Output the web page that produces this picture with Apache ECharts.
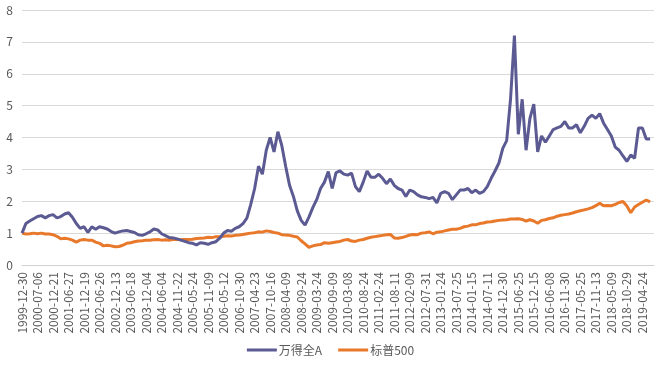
<!DOCTYPE html>
<html>
<head>
<meta charset="utf-8">
<script src="https://cdn.jsdelivr.net/npm/echarts@6/dist/echarts.min.js"></script>
<style>
html,body{margin:0;padding:0;background:#fff;}
#c{width:661px;height:366px;}
</style>
</head>
<body>
<div id="c"></div>
<script>
var dates = [
'1999-12-30','2000-02-17','2000-04-06','2000-05-22',
'2000-07-06','2000-08-16','2000-09-26','2000-11-08',
'2000-12-21','2001-02-08','2001-03-28','2001-05-14',
'2001-06-27','2001-08-10','2001-09-25','2001-11-06',
'2001-12-19','2002-02-06','2002-03-26','2002-05-10',
'2002-06-26','2002-08-12','2002-09-25','2002-10-30',
'2002-12-13','2003-02-03','2003-03-24','2003-05-06',
'2003-06-18','2003-07-31','2003-09-12','2003-10-23',
'2003-12-04','2004-01-22','2004-03-09','2004-04-21',
'2004-06-04','2004-07-20','2004-08-30','2004-10-11',
'2004-11-22','2005-01-10','2005-02-25','2005-04-12',
'2005-05-24','2005-07-06','2005-08-17','2005-09-28',
'2005-11-09','2005-12-27','2006-02-14','2006-03-29',
'2006-05-12','2006-06-26','2006-08-08','2006-09-19',
'2006-10-30','2006-12-13','2007-01-31','2007-03-13',
'2007-04-23','2007-06-07','2007-07-20','2007-08-31',
'2007-10-16','2007-11-28','2008-01-15','2008-02-26',
'2008-04-09','2008-05-20','2008-07-02','2008-08-13',
'2008-09-24','2008-11-07','2008-12-22','2009-02-09',
'2009-03-24','2009-05-06','2009-06-17','2009-07-29',
'2009-09-09','2009-10-22','2009-12-03','2010-01-21',
'2010-03-08','2010-04-20','2010-06-01','2010-07-13',
'2010-08-24','2010-10-07','2010-11-18','2011-01-05',
'2011-02-24','2011-04-07','2011-05-18','2011-06-30',
'2011-08-11','2011-09-23','2011-11-04','2011-12-20',
'2012-02-09','2012-03-22','2012-05-04','2012-06-18',
'2012-07-31','2012-09-12','2012-10-26','2012-12-10',
'2013-01-24','2013-03-11','2013-04-24','2013-06-10',
'2013-07-25','2013-09-05','2013-10-18','2013-12-02',
'2014-01-15','2014-03-03','2014-04-14','2014-05-27',
'2014-07-11','2014-08-21','2014-10-02','2014-11-14',
'2014-12-30','2015-02-13','2015-03-30','2015-05-11',
'2015-06-25','2015-08-06','2015-09-18','2015-11-02',
'2015-12-15','2016-02-01','2016-03-14','2016-04-26',
'2016-06-08','2016-07-21','2016-09-01','2016-10-17',
'2016-11-30','2017-01-17','2017-03-02','2017-04-12',
'2017-05-25','2017-07-07','2017-08-18','2017-09-29',
'2017-11-13','2017-12-26','2018-02-12','2018-03-27',
'2018-05-09','2018-06-21','2018-08-02','2018-09-14',
'2018-10-29','2018-12-12','2019-01-29','2019-03-13',
'2019-04-24','2019-06-06','2019-07-19','2019-08-30'
];

var windA = [
1.0,1.3,1.38,1.45, 1.52,1.55,1.48,1.55, 1.58,1.48,1.52,1.6,
1.64,1.5,1.3,1.15, 1.2,1.02,1.2,1.12, 1.2,1.17,1.13,1.05,
1.0,1.04,1.07,1.08, 1.05,1.02,0.95,0.93, 0.98,1.04,1.13,1.1,
0.98,0.92,0.86,0.85, 0.82,0.78,0.74,0.7, 0.68,0.63,0.7,0.68,
0.65,0.7,0.73,0.84, 1.0,1.08,1.06,1.15, 1.2,1.3,1.47,1.9,
2.4,3.1,2.85,3.6, 4.0,3.55,4.18,3.75, 3.1,2.5,2.15,1.7,
1.4,1.25,1.5,1.8, 2.05,2.4,2.6,2.93, 2.4,2.9,2.95,2.85,
2.82,2.88,2.46,2.3, 2.6,2.95,2.75,2.75, 2.85,2.72,2.55,2.7,
2.5,2.4,2.35,2.15, 2.35,2.3,2.2,2.14, 2.12,2.08,2.12,1.95,
2.25,2.3,2.25,2.05, 2.2,2.35,2.35,2.4, 2.27,2.35,2.25,2.3,
2.46,2.72,2.95,3.2, 3.66,3.9,5.2,7.2, 4.1,5.2,3.6,4.6,
5.05,3.55,4.05,3.85, 4.05,4.25,4.3,4.35, 4.5,4.3,4.3,4.4,
4.15,4.35,4.6,4.7, 4.6,4.75,4.45,4.25, 4.05,3.7,3.6,3.42,
3.25,3.45,3.35,4.3, 4.3,3.95,3.95
];

var sp500 = [
1.0,0.97,0.98,1.0, 0.98,1.0,0.97,0.97, 0.95,0.9,0.82,0.84,
0.82,0.78,0.72,0.78, 0.8,0.78,0.78,0.72, 0.68,0.6,0.62,0.6,
0.57,0.58,0.62,0.68, 0.7,0.73,0.75,0.76, 0.78,0.78,0.79,0.8,
0.78,0.79,0.78,0.8, 0.8,0.79,0.8,0.8, 0.81,0.83,0.84,0.85,
0.87,0.86,0.89,0.89, 0.9,0.92,0.91,0.93, 0.94,0.96,0.98,1.0,
1.01,1.04,1.03,1.07, 1.05,1.02,1.0,0.95, 0.94,0.93,0.9,0.88,
0.76,0.66,0.55,0.6, 0.63,0.64,0.7,0.68, 0.7,0.72,0.74,0.78,
0.8,0.75,0.74,0.78, 0.8,0.84,0.87,0.89, 0.91,0.93,0.95,0.96,
0.85,0.84,0.86,0.9, 0.94,0.96,0.95,1.0, 1.01,1.04,0.98,1.03,
1.04,1.07,1.1,1.12, 1.12,1.15,1.2,1.22, 1.26,1.26,1.3,1.32,
1.35,1.36,1.38,1.4, 1.41,1.42,1.44,1.44, 1.45,1.43,1.38,1.42,
1.38,1.31,1.4,1.42, 1.46,1.48,1.53,1.56, 1.58,1.6,1.63,1.67,
1.7,1.73,1.76,1.8, 1.86,1.94,1.86,1.87, 1.86,1.9,1.96,1.99,
1.85,1.64,1.82,1.9, 1.97,2.04,1.98
];

var seriesNames = ['万得全A', '标普500'];
var yTicks = {min: 0, max: 8, interval: 1};

var chart = echarts.init(document.getElementById('c'), null, {renderer: 'canvas'});
var font = '"Noto Sans CJK SC", "Liberation Sans", sans-serif';
chart.setOption({
  animation: false,
  backgroundColor: '#ffffff',
  grid: {left: 22, right: 7, top: 10, bottom: 101, containLabel: false},
  legend: {
    data: seriesNames,
    bottom: 5,
    left: 'center',
    icon: 'rect',
    itemWidth: 30,
    itemHeight: 3,
    itemGap: 16,
    textStyle: {color: '#595959', fontSize: 12, fontFamily: font, padding: [0, 0, 0, -3]}
  },
  xAxis: {
    type: 'category',
    data: dates,
    boundaryGap: false,
    axisLine: {show: true, lineStyle: {color: '#d0d0d0', width: 1}},
    axisTick: {show: false},
    splitLine: {show: false},
    axisLabel: {
      interval: 3,
      rotate: 90,
      margin: 7,
      color: '#595959',
      fontSize: 12,
      fontFamily: font
    }
  },
  yAxis: {
    type: 'value',
    min: yTicks.min,
    max: yTicks.max,
    interval: yTicks.interval,
    axisLine: {show: false},
    axisTick: {show: false},
    splitLine: {lineStyle: {color: '#d9d9d9', width: 1}},
    axisLabel: {color: '#595959', fontSize: 12, margin: 9, fontFamily: font}
  },
  series: [
    {
      name: seriesNames[0],
      type: 'line',
      data: windA,
      symbol: 'none',
      lineStyle: {color: '#5B5A92', width: 3},
      itemStyle: {color: '#5B5A92'},
      z: 3
    },
    {
      name: seriesNames[1],
      type: 'line',
      data: sp500,
      symbol: 'none',
      lineStyle: {color: '#E8782A', width: 3},
      itemStyle: {color: '#E8782A'},
      z: 2
    }
  ]
});
</script>
</body>
</html>
